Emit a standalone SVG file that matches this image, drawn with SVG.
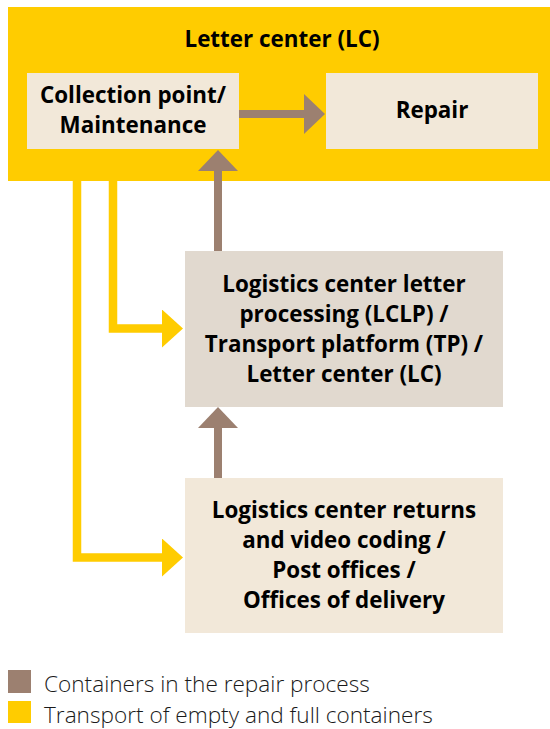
<svg xmlns="http://www.w3.org/2000/svg" width="550" height="729" viewBox="0 0 550 729">
  <style>
    .t { font-family: "Open Sans", "Noto Sans", "DejaVu Sans", sans-serif; font-weight: 700; font-size: 22.4px; fill: #000; text-anchor: middle; }
    .lg { font-family: "Open Sans", "Noto Sans", "DejaVu Sans", sans-serif; font-weight: 300; font-size: 22.6px; fill: #1a1a1a; }
    .beige { fill: #F2E8D9; }
    .grey { fill: #E1D9CF; }
    .brown { fill: none; stroke: #9C8070; stroke-width: 8; }
    .yellow { fill: none; stroke: #FFCC00; stroke-width: 8.5; stroke-linejoin: miter; }
  </style>
  <defs>
    <marker id="ahBrown" markerUnits="userSpaceOnUse" markerWidth="21" markerHeight="40" viewBox="0 0 21 40" refX="0" refY="20" orient="auto">
      <path d="M0,0 L21,20 L0,40 Z" fill="#9C8070"/>
    </marker>
    <marker id="ahYellow" markerUnits="userSpaceOnUse" markerWidth="21" markerHeight="38" viewBox="0 0 21 38" refX="0" refY="19" orient="auto">
      <path d="M0,0 L21,19 L0,38 Z" fill="#FFCC00"/>
    </marker>
  </defs>

  <g id="lc">
    <rect x="8" y="7" width="542" height="174" fill="#FFCC00"/>
    <text class="t" x="282" y="47">Letter center (LC)</text>
  </g>

  <g id="collection">
    <rect class="beige" x="27" y="73" width="212" height="76"/>
    <text class="t" x="133" y="103">Collection point/</text>
    <text class="t" x="133" y="133">Maintenance</text>
  </g>

  <g id="repair">
    <rect class="beige" x="326" y="73" width="212" height="76"/>
    <text class="t" x="432" y="118">Repair</text>
  </g>

  <g id="lclp">
    <rect class="grey" x="185" y="251" width="318" height="156"/>
    <text class="t" x="344" y="292">Logistics center letter</text>
    <text class="t" x="344" y="322">processing (LCLP) /</text>
    <text class="t" x="344" y="352">Transport platform (TP) /</text>
    <text class="t" x="344" y="382">Letter center (LC)</text>
  </g>

  <g id="returns">
    <rect class="beige" x="185" y="478" width="318" height="155"/>
    <text class="t" x="344" y="518">Logistics center returns</text>
    <text class="t" x="344" y="548">and video coding /</text>
    <text class="t" x="344" y="578">Post offices /</text>
    <text class="t" x="344" y="608">Offices of delivery</text>
  </g>

  <g id="connectors">
    <path class="brown" d="M239,114 H304" marker-end="url(#ahBrown)"/>
    <path class="brown" d="M218,251 V171" marker-end="url(#ahBrown)"/>
    <path class="brown" d="M218,478 V428" marker-end="url(#ahBrown)"/>
    <path class="yellow" d="M77,181 V557.5 H162" marker-end="url(#ahYellow)"/>
    <path class="yellow" d="M113,181 V328.5 H162" marker-end="url(#ahYellow)"/>
  </g>

  <g id="legend">
    <rect x="8" y="670" width="23" height="23" fill="#9C8070"/>
    <rect x="8" y="701" width="23" height="22" fill="#FFCC00"/>
    <text class="lg" x="44" y="692">Containers in the repair process</text>
    <text class="lg" x="44" y="723">Transport of empty and full containers</text>
  </g>
</svg>
